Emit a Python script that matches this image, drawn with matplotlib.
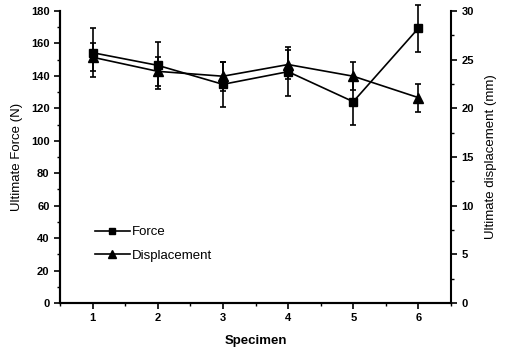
import numpy as np
import matplotlib
matplotlib.use("Agg")
import matplotlib.pyplot as plt
from matplotlib.ticker import MultipleLocator
from matplotlib.lines import Line2D

# data
specimen = [1, 2, 3, 4, 5, 6]
force = [154.3, 146.5, 134.8, 142.6, 124.1, 169.4]
force_err = [15, 14.5, 14, 15, 14.5, 14.5]
displacement = [25.25, 23.8, 23.3, 24.5, 23.3, 21.1]
disp_err = [1.45, 1.5, 1.5, 1.5, 1.45, 1.45]

plt.rcParams['font.family'] = ['Liberation Sans', 'DejaVu Sans']

fig = plt.figure(figsize=(5.05, 3.5), dpi=100)
ax = fig.add_axes([60 / 505, 47 / 350, 391 / 505, 292 / 350])
ax2 = ax.twinx()

eb1 = ax.errorbar(specimen, force, yerr=force_err, color='black', marker='s',
                  markersize=5.5, linewidth=1.2, elinewidth=1.2, capsize=2,
                  capthick=1.2)
eb2 = ax2.errorbar(specimen, displacement, yerr=disp_err, color='black',
                   marker='^', markersize=6.5, linewidth=1.2, elinewidth=1.2,
                   capsize=2, capthick=1.2)
for eb in (eb1, eb2):
    for art in eb.lines[1] + eb.lines[2]:
        art.set_clip_on(False)

ax.set_xlim(0.5, 6.5)
ax.set_ylim(0, 180)
ax2.set_ylim(0, 30)

ax.xaxis.set_major_locator(MultipleLocator(1))
ax.xaxis.set_minor_locator(MultipleLocator(0.5))
ax.yaxis.set_major_locator(MultipleLocator(20))
ax.yaxis.set_minor_locator(MultipleLocator(10))
ax2.yaxis.set_major_locator(MultipleLocator(5))
ax2.yaxis.set_minor_locator(MultipleLocator(2.5))

for a in (ax, ax2):
    a.spines['top'].set_visible(False)
    for s in a.spines.values():
        s.set_linewidth(1.5)
    a.tick_params(which='major', direction='out', length=4, width=1.2,
                  labelsize=8)
    a.tick_params(which='minor', direction='out', length=2, width=1)
    for lab in a.get_xticklabels() + a.get_yticklabels():
        lab.set_fontweight('bold')
ax.spines['right'].set_visible(False)

ax.set_xlabel('Specimen', fontsize=9.5, fontweight='bold', labelpad=8)
ax.set_ylabel('Ultimate Force (N)', fontsize=9.5, labelpad=6)
ax2.set_ylabel('Ultimate displacement (mm)', fontsize=9.5, labelpad=8)

handles = [Line2D([], [], color='black', marker='s', markersize=4.5,
                  linewidth=1.2),
           Line2D([], [], color='black', marker='^', markersize=5.5,
                  linewidth=1.2)]
ax.legend(handles, ['Force', 'Displacement'], loc='lower left',
          bbox_to_anchor=(0.06, 0.1), frameon=False, fontsize=9.5,
          handlelength=2.6, handletextpad=0.2, labelspacing=0.85)

fig.savefig('out.png', dpi=100)
